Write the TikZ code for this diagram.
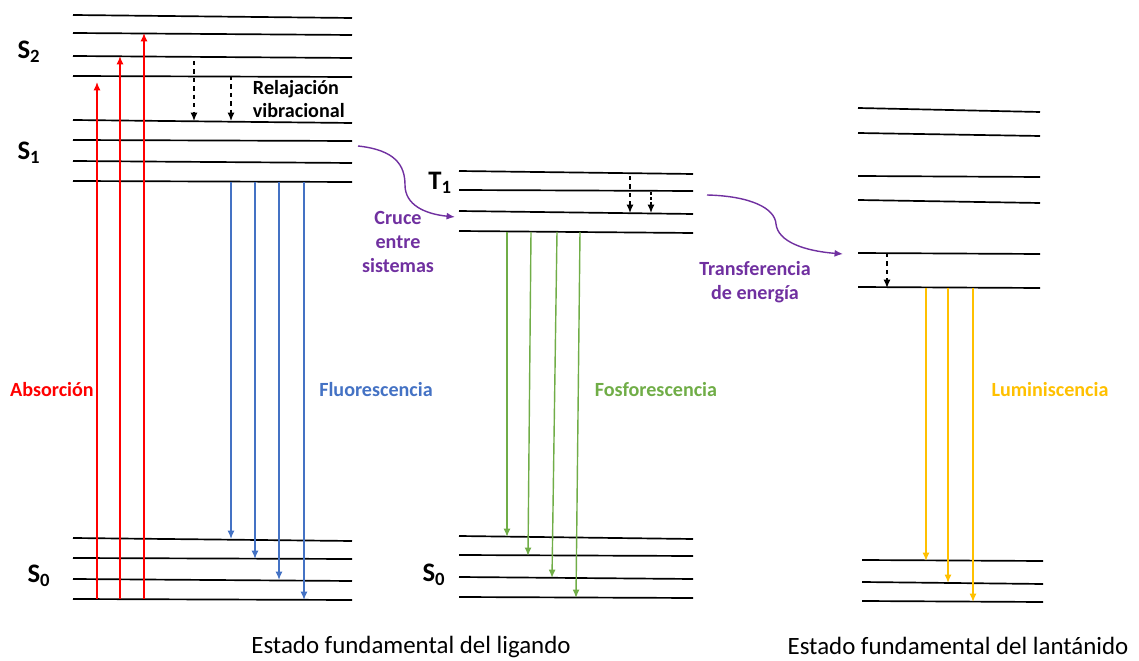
\documentclass[tikz,border=0pt]{standalone}
\usepackage{fontspec}
\setmainfont{Carlito}
\usetikzlibrary{arrows.meta}
\definecolor{absred}{HTML}{FF0000}
\definecolor{fluoblue}{HTML}{4472C4}
\definecolor{fosgreen}{HTML}{70AD47}
\definecolor{lumyellow}{HTML}{FFC000}
\definecolor{isc}{HTML}{7030A0}
\begin{document}
\begin{tikzpicture}[x=0.025cm,y=-0.025cm,
  lvl/.style={line width=1.2pt},
  trans/.style={line width=1pt,-{Latex[length=6pt,width=5pt]}},
  relax/.style={line width=0.9pt,dashed,-{Latex[length=6pt,width=5pt]}},
  lbl/.style={font=\fontsize{14.3}{16.9}\selectfont\bfseries,align=center},
  state/.style={font=\fontsize{19}{21}\selectfont\bfseries},
  ground/.style={font=\fontsize{17.7}{20}\selectfont,inner sep=0pt}]
\useasboundingbox (0,0) rectangle (1139,661);

% ligando: S2 y S1
\draw[lvl] (73,15) -- (352,18);
\draw[lvl] (73,33) -- (352,35);
\draw[lvl] (73,56) -- (352,58);
\draw[lvl] (73,76) -- (352,77);
\draw[lvl] (73,120) -- (352,123);
\draw[lvl] (73,140) -- (352,141);
\draw[lvl] (73,161) -- (352,163);
\draw[lvl] (73,181) -- (352,182);
% ligando: S0
\draw[lvl] (73,538) -- (352,541);
\draw[lvl] (73,558) -- (352,559);
\draw[lvl] (73,579) -- (352,581);
\draw[lvl] (73,599) -- (352,600);

% absorcion
\draw[trans,absred] (97,599) -- (97,82);
\draw[trans,absred] (120,599) -- (120,56);
\draw[trans,absred] (144,599) -- (144,33);
% relajacion vibracional
\draw[relax] (194,61) -- (194,121);
\draw[relax] (231,76) -- (231,121);
% fluorescencia
\draw[trans,fluoblue] (231,182) -- (231,539);
\draw[trans,fluoblue] (255,182) -- (255,559);
\draw[trans,fluoblue] (279,182) -- (279,580);
\draw[trans,fluoblue] (304,182) -- (304,600);

% triplete T1
\draw[lvl] (459,171) -- (693,174);
\draw[lvl] (459,190) -- (693,191);
\draw[lvl] (459,211) -- (693,214);
\draw[lvl] (459,231) -- (693,233);
% S0 centro
\draw[lvl] (459,536) -- (693,539);
\draw[lvl] (459,555) -- (693,556);
\draw[lvl] (459,577) -- (693,579);
\draw[lvl] (459,597) -- (693,598);

\draw[relax] (630,176) -- (630,213);
\draw[relax,dash pattern=on 2pt off 1.5pt] (651,192) -- (651,213);
% fosforescencia
\draw[trans,fosgreen] (507,232) -- (507,537);
\draw[trans,fosgreen] (531,232) -- (528,556);
\draw[trans,fosgreen] (557,232) -- (552,578);
\draw[trans,fosgreen] (580,232) -- (576,598);

% lantanido
\draw[lvl] (858,108) -- (1040,112);
\draw[lvl] (858,133) -- (1040,136);
\draw[lvl] (858,176) -- (1040,177);
\draw[lvl] (858,200) -- (1040,203);
\draw[lvl] (858,253) -- (1040,254);
\draw[lvl] (858,287) -- (1040,288);
\draw[lvl] (862,560) -- (1043,561);
\draw[lvl] (862,582) -- (1043,584);
\draw[lvl] (862,601) -- (1043,602);

\draw[relax] (887,253) -- (887,288);
% luminiscencia
\draw[trans,lumyellow] (926,288) -- (926,561);
\draw[trans,lumyellow] (948,288) -- (948,583);
\draw[trans,lumyellow] (973,288) -- (973,602);

% cruce entre sistemas y transferencia
\draw[line width=1pt,isc,-{Latex[length=6pt,width=5pt]}] (358,146) .. controls (395,150) and (405,165) .. (405,185)
  .. controls (405,205) and (425,214) .. (455,217);
\draw[line width=1pt,isc,-{Latex[length=6pt,width=5pt]}] (707,195) .. controls (750,196) and (775,208) .. (776,224)
  .. controls (778,242) and (805,251) .. (843,254);

\node[lbl,isc] at (398,242) {Cruce\\entre\\sistemas};
\node[lbl,isc] at (755,282) {Transferencia\\de energía};
\node[lbl,align=left,anchor=west] at (248,99) {Relajación\\vibracional};

\node[state] at (29,52) {S\textsubscript{2}};
\node[state] at (29,153) {S\textsubscript{1}};
\node[state] at (440,183) {T\textsubscript{1}};
\node[state] at (39,576) {S\textsubscript{0}};
\node[state] at (434,575) {S\textsubscript{0}};

\node[lbl,absred] at (52,390) {Absorción};
\node[lbl,fluoblue] at (376,390) {Fluorescencia};
\node[lbl,fosgreen] at (656,390) {Fosforescencia};
\node[lbl,lumyellow] at (1050,390) {Luminiscencia};

\node[ground] at (411,647) {Estado fundamental del ligando};
\node[ground] at (958,646) {Estado fundamental del lantánido};
\end{tikzpicture}
\end{document}
